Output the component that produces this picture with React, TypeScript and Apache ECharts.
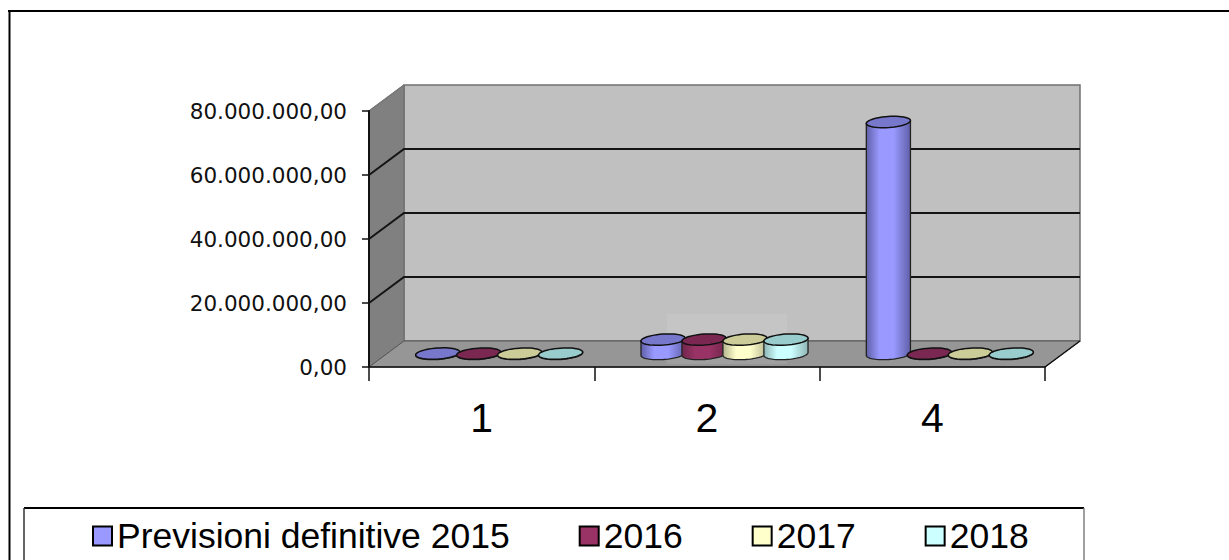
import React, { useEffect, useRef } from "react";
import * as echarts from "echarts";

const categories = ["1", "2", "4"];
const yTicks = [0, 20000000, 40000000, 60000000, 80000000];
const previsioni2015 = [150000, 4500000, 72500000];
const values2016 = [120000, 4500000, 120000];
const values2017 = [120000, 4500000, 120000];
const values2018 = [120000, 4500000, 120000];

const seriesNames = ["Previsioni definitive 2015", "2016", "2017", "2018"];
const seriesValues = [previsioni2015, values2016, values2017, values2018];
const bodyColors = ["#9999FF", "#993366", "#FFFFCC", "#CCFFFF"];
const edgeColors = ["#6060A8", "#70264B", "#B5B58F", "#8FB5B5"];
const capColors = ["#7777CC", "#7A2851", "#CCCC99", "#99CCCC"];

const DEPTH_X = 35;
const DEPTH_Y = 26;
const TILT = (-4 * Math.PI) / 180;

function formatTick(v: number) {
  const whole = String(Math.round(v)).replace(/\B(?=(\d{3})+$)/g, ".");
  return `${whole},00`;
}

// Back wall, side wall, floor and the gridlines that wrap around them.
function renderFrame(params: any, api: any) {
  const { x, y, width, height } = params.coordSys;
  const left = x;
  const right = x + width;
  const bottom = y + height;
  const children: any[] = [
    {
      type: "polygon",
      shape: { points: [[left + DEPTH_X, y - DEPTH_Y], [right + DEPTH_X, y - DEPTH_Y], [right + DEPTH_X, bottom - DEPTH_Y], [left + DEPTH_X, bottom - DEPTH_Y]] },
      style: { fill: "#C0C0C0", stroke: "#707070", lineWidth: 1.5 },
    },
    {
      type: "polygon",
      shape: { points: [[left, y], [left + DEPTH_X, y - DEPTH_Y], [left + DEPTH_X, bottom - DEPTH_Y], [left, bottom]] },
      style: { fill: "#808080", stroke: "#6a6a6a", lineWidth: 1 },
    },
    {
      type: "polygon",
      shape: { points: [[left, bottom], [left + DEPTH_X, bottom - DEPTH_Y], [right + DEPTH_X, bottom - DEPTH_Y], [right, bottom]] },
      style: { fill: "#969696", stroke: "#555555", lineWidth: 1 },
    },
    {
      type: "line",
      shape: { x1: right, y1: bottom, x2: right + DEPTH_X, y2: bottom - DEPTH_Y },
      style: { stroke: "#111111", lineWidth: 1.5 },
    },
    {
      type: "rect",
      shape: { x: left + 298, y: bottom - 53, width: 120, height: 50 },
      style: { fill: "rgba(255,255,255,0.09)" },
    },
  ];
  yTicks.slice(1, -1).forEach((tick) => {
    const py = api.coord([0, tick])[1];
    children.push({
      type: "polyline",
      shape: { points: [[left, py], [left + DEPTH_X, py - DEPTH_Y], [right + DEPTH_X, py - DEPTH_Y]] },
      style: { stroke: "#141414", lineWidth: 2, fill: "none" },
    });
  });
  children.push({
    type: "line",
    shape: { x1: left, y1: y, x2: left + DEPTH_X, y2: y - DEPTH_Y },
    style: { stroke: "#777777", lineWidth: 1.5 },
  });
  return { type: "group", children };
}

// One cylinder, standing at mid-depth of the floor, with slightly tilted ends.
function renderCylinder(params: any, api: any) {
  const index = params.seriesIndex - 1;
  const cat = api.value(0);
  const base = api.coord([cat, 0]);
  const top = api.coord([cat, api.value(1)]);
  const step = api.size([1, 0])[0] / 5.5;
  const rx = step * 0.54;
  const ry = 5.5;
  const cx = base[0] + (index - 1.5) * step + DEPTH_X / 2;
  const by = base[1] - DEPTH_Y / 2;
  const ty = top[1] - DEPTH_Y / 2;
  const pt = (a: number, cy: number) => [
    cx + rx * Math.cos(a) * Math.cos(TILT) - ry * Math.sin(a) * Math.sin(TILT),
    cy + rx * Math.cos(a) * Math.sin(TILT) + ry * Math.sin(a) * Math.cos(TILT),
  ];
  const outline: number[][] = [pt(Math.PI, ty)];
  for (let i = 0; i <= 32; i++) outline.push(pt(Math.PI - (i / 32) * Math.PI, by));
  outline.push(pt(0, ty));
  const cap: number[][] = [];
  for (let i = 0; i < 48; i++) cap.push(pt((i / 48) * 2 * Math.PI, ty));
  return {
    type: "group",
    children: [
      {
        type: "polygon",
        shape: { points: outline },
        style: {
          fill: new echarts.graphic.LinearGradient(0, 0, 1, 0, [
            { offset: 0, color: edgeColors[index] },
            { offset: 0.3, color: bodyColors[index] },
            { offset: 0.62, color: bodyColors[index] },
            { offset: 1, color: edgeColors[index] },
          ]),
          stroke: "#222222",
          lineWidth: 1.3,
        },
      },
      {
        type: "polygon",
        shape: { points: cap },
        style: { fill: capColors[index], stroke: "#111111", lineWidth: 1.5 },
      },
    ],
  };
}

export default function App() {
  const ref = useRef<HTMLDivElement>(null);

  useEffect(() => {
    document.body.style.margin = "0";
    const chart = echarts.init(ref.current!, null, { renderer: "svg" });
    chart.setOption({
      animation: false,
      backgroundColor: "#FFFFFF",
      grid: { left: 369, top: 111, width: 676, height: 256, containLabel: false },
      xAxis: {
        type: "category",
        data: categories,
        z: 2,
        axisLine: { show: true, lineStyle: { color: "#111111", width: 1.5 } },
        axisTick: { show: true, length: 14, alignWithLabel: false, lineStyle: { color: "#111111", width: 1.5 } },
        axisLabel: { fontFamily: "Liberation Sans", fontSize: 41, color: "#000000", margin: 30 },
      },
      yAxis: {
        type: "value",
        min: 0,
        max: 80000000,
        interval: 20000000,
        z: 2,
        splitLine: { show: false },
        axisLine: { show: true, lineStyle: { color: "#111111", width: 2 } },
        axisTick: { show: true, length: 7, lineStyle: { color: "#111111", width: 1.5 } },
        axisLabel: {
          fontFamily: "DejaVu Sans",
          fontSize: 21.5,
          color: "#111111",
          margin: 22,
          formatter: formatTick,
        },
      },
      legend: {
        data: seriesNames,
        left: 92,
        top: 518,
        icon: "rect",
        itemWidth: 19,
        itemHeight: 19,
        itemGap: 69,
        padding: 0,
        textStyle: { fontFamily: "Liberation Sans", fontSize: 35.5, color: "#000000" },
      },
      graphic: {
        elements: [
          { type: "line", shape: { x1: 9.5, y1: 11, x2: 9.5, y2: 560 }, style: { stroke: "#000000", lineWidth: 2 } },
          { type: "line", shape: { x1: 8, y1: 11, x2: 1229, y2: 11 }, style: { stroke: "#000000", lineWidth: 2 } },
          { type: "line", shape: { x1: 24, y1: 508, x2: 1084, y2: 508 }, style: { stroke: "#000000", lineWidth: 2 } },
          { type: "line", shape: { x1: 24, y1: 508, x2: 24, y2: 560 }, style: { stroke: "#333333", lineWidth: 1.5 } },
          { type: "line", shape: { x1: 1084, y1: 508, x2: 1084, y2: 560 }, style: { stroke: "#808080", lineWidth: 1.5 } },
        ],
      },
      series: [
        {
          type: "custom",
          name: "frame",
          z: 1,
          silent: true,
          renderItem: renderFrame,
          data: [[0, 0]],
          encode: { x: 0, y: 1 },
        },
        ...seriesNames.map((name, i) => ({
          type: "custom",
          name,
          z: 3,
          renderItem: renderCylinder,
          itemStyle: {
            color: bodyColors[i],
            borderColor: "#000000",
            borderWidth: 2.5,
          },
          encode: { x: 0, y: 1 },
          data: seriesValues[i].map((v, c) => [c, v]),
        })),
      ],
    });
    return () => chart.dispose();
  }, []);

  return <div ref={ref} style={{ position: "absolute", left: 0, top: 0, width: 1229, height: 560 }} />;
}
